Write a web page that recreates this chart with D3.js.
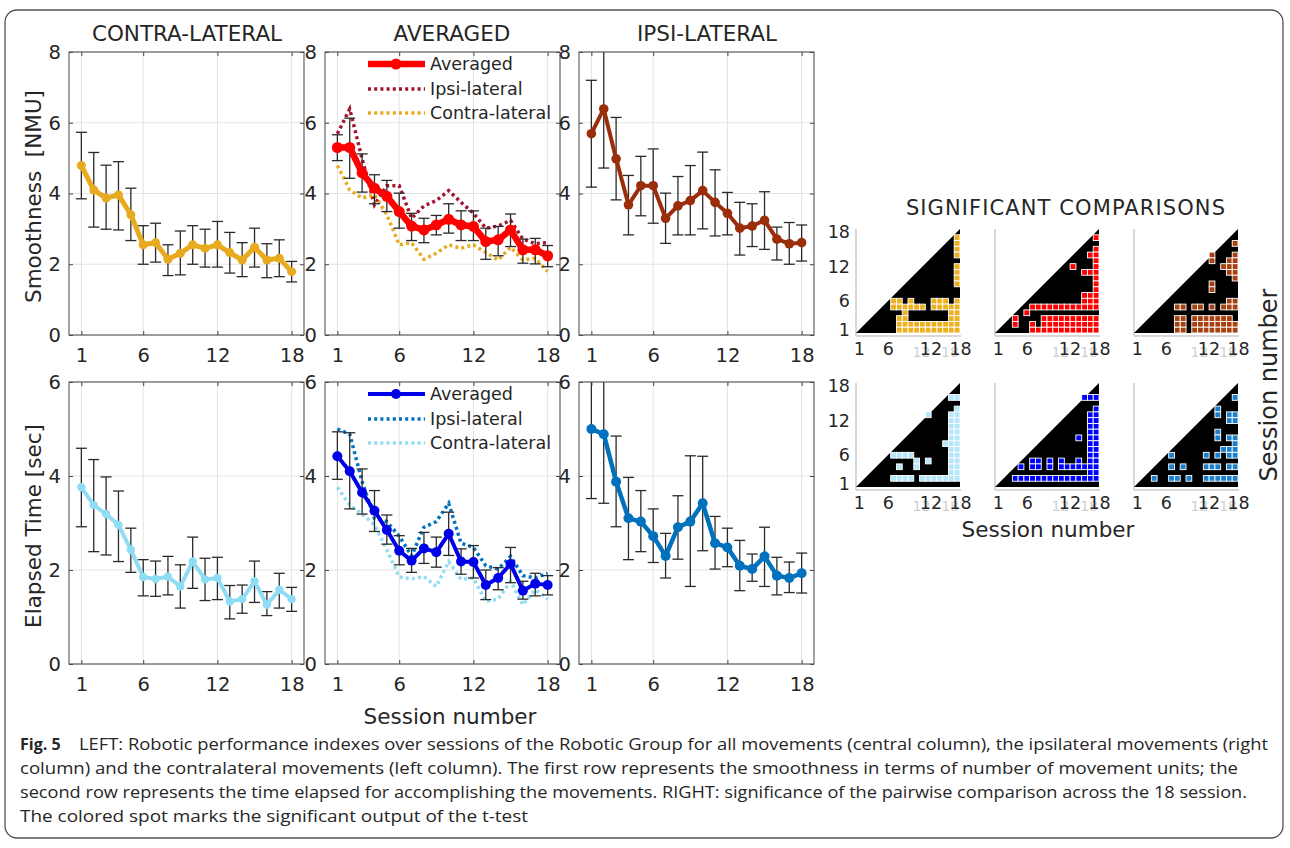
<!DOCTYPE html>
<html>
<head>
<meta charset="utf-8">
<script src="https://cdn.jsdelivr.net/npm/d3@7"></script>
<style>
body { margin: 0; background: #fff; }
svg text { font-family: "DejaVu Sans", sans-serif; fill: #262626; white-space: pre; }
</style>
</head>
<body>
<svg id="fig" width="1290" height="848"></svg>
<script>
// ---- data ----
const sessions = d3.range(1, 19);
const xTicks = [1, 6, 12, 18];

// Smoothness [NMU]
const smContra   = [4.79, 4.10, 3.87, 3.96, 3.40, 2.55, 2.61, 2.14, 2.31, 2.55, 2.45, 2.55, 2.33, 2.12, 2.48, 2.12, 2.17, 1.79];
const smContraHi = [5.73, 5.16, 4.80, 4.90, 4.15, 3.09, 3.16, 2.55, 2.94, 3.09, 2.99, 3.21, 2.90, 2.61, 3.02, 2.58, 2.69, 2.08];
const smContraLo = [3.85, 3.05, 2.99, 2.97, 2.67, 2.00, 2.06, 1.68, 1.70, 2.00, 1.92, 1.92, 1.75, 1.65, 1.92, 1.62, 1.65, 1.50];
const smAvg      = [5.30, 5.30, 4.58, 4.15, 3.92, 3.49, 3.08, 2.97, 3.11, 3.27, 3.11, 3.07, 2.64, 2.69, 2.97, 2.41, 2.41, 2.24];
const smAvgHi    = [5.66, 6.13, 5.12, 4.53, 4.37, 4.01, 3.44, 3.30, 3.38, 3.71, 3.51, 3.51, 3.02, 3.07, 3.42, 2.71, 2.73, 2.53];
const smAvgLo    = [4.93, 4.43, 4.04, 3.71, 3.49, 3.02, 2.67, 2.61, 2.83, 2.88, 2.67, 2.67, 2.14, 2.24, 2.50, 2.03, 2.01, 1.93];
const smIpsi     = [5.69, 6.39, 4.98, 3.68, 4.22, 4.22, 3.30, 3.65, 3.80, 4.08, 3.75, 3.44, 3.02, 3.08, 3.24, 2.71, 2.58, 2.61];
const smIpsiHi   = [7.20, 8.40, 6.15, 4.51, 5.05, 5.26, 4.01, 4.48, 4.79, 5.17, 4.67, 4.03, 3.75, 3.71, 4.05, 3.05, 3.18, 3.11];
const smIpsiLo   = [4.18, 4.72, 3.82, 2.83, 3.37, 3.16, 2.59, 2.83, 2.83, 3.00, 2.80, 2.83, 2.26, 2.50, 2.42, 2.12, 2.00, 2.09];

// Elapsed Time [sec]
const etContra   = [3.76, 3.38, 3.19, 2.96, 2.43, 1.85, 1.81, 1.86, 1.65, 2.18, 1.80, 1.83, 1.33, 1.38, 1.76, 1.26, 1.58, 1.38];
const etContraHi = [4.59, 4.35, 3.98, 3.68, 2.89, 2.22, 2.19, 2.29, 2.11, 2.70, 2.25, 2.27, 1.67, 1.68, 2.19, 1.54, 1.93, 1.63];
const etContraLo = [2.92, 2.39, 2.32, 2.18, 1.95, 1.45, 1.44, 1.47, 1.19, 1.61, 1.35, 1.37, 0.96, 1.08, 1.31, 1.03, 1.19, 1.12];
const etAvg      = [4.42, 4.10, 3.65, 3.26, 2.85, 2.41, 2.20, 2.46, 2.38, 2.77, 2.18, 2.17, 1.68, 1.83, 2.13, 1.56, 1.71, 1.68];
const etAvgHi    = [4.94, 4.92, 4.15, 3.69, 3.17, 2.73, 2.46, 2.80, 2.70, 3.23, 2.45, 2.52, 2.00, 2.05, 2.48, 1.76, 1.93, 1.88];
const etAvgLo    = [3.93, 3.30, 3.19, 2.82, 2.55, 2.11, 1.95, 2.14, 2.06, 2.31, 1.91, 1.83, 1.37, 1.58, 1.73, 1.38, 1.45, 1.47];
const etIpsi     = [5.00, 4.89, 3.88, 3.10, 3.03, 2.72, 2.30, 2.91, 3.03, 3.42, 2.57, 2.48, 2.09, 2.02, 2.29, 1.88, 1.83, 1.93];
const etIpsiHi   = [6.50, 6.40, 4.85, 3.97, 3.69, 3.30, 2.78, 3.58, 4.43, 4.42, 3.14, 2.89, 2.63, 2.34, 2.91, 2.27, 2.17, 2.36];
const etIpsiLo   = [3.52, 3.42, 2.92, 2.22, 2.39, 2.16, 1.83, 2.23, 1.65, 2.41, 2.02, 2.07, 1.56, 1.76, 1.65, 1.47, 1.52, 1.51];

// significant comparisons: rows from session 18 (top) down to session 1, columns sessions 1..18
const sigSmContra = [
  "..................",
  ".................#",
  ".................#",
  ".................#",
  ".................#",
  "..................",
  ".................#",
  ".................#",
  ".................#",
  ".................#",
  "..................",
  "..................",
  "......##.#...###.#",
  "......######.#####",
  "........#.......##",
  ".......##.......##",
  ".......###########",
  ".......###########"];
const sigSmAvg = [
  "..................",
  ".................#",
  "..................",
  ".................#",
  "................##",
  ".................#",
  ".............#...#",
  "...............###",
  ".................#",
  ".................#",
  ".................#",
  "...............###",
  "...............###",
  "......############",
  ".....#............",
  "...#....##########",
  "...#..#.##########",
  "......############"];
const sigSmIpsi = [
  "..................",
  "..................",
  ".................#",
  "..................",
  ".............#...#",
  ".............#..##",
  "...............###",
  "................##",
  ".................#",
  ".............#....",
  ".............#....",
  "..................",
  "................##",
  ".......##.##.#.###",
  "..................",
  ".......##.#######.",
  ".......##.########",
  ".......##.########"];
const sigEtContra = [
  "..................",
  "..................",
  "................##",
  "..................",
  ".................#",
  "............#...##",
  "................##",
  "................##",
  "................##",
  "................##",
  "...............###",
  "................##",
  "......####......##",
  "..........#.#...##",
  ".......#..#.....##",
  "................##",
  "......####.#######",
  ".................."];
const sigEtAvg = [
  "..................",
  "..................",
  "...............###",
  "..................",
  ".................#",
  "................##",
  "................##",
  "................##",
  "................##",
  "..............#.##",
  "................##",
  "................##",
  "................##",
  "......##.#.#..#.##",
  "....#.##.#.#######",
  "................##",
  "...###############",
  ".................."];
const sigEtIpsi = [
  "..................",
  "..................",
  ".................#",
  "..................",
  "..............#...",
  "..............#.##",
  "................##",
  "..................",
  "..............#...",
  "..............#.##",
  ".................#",
  "...............###",
  "......#.....#.#.##",
  "..................",
  "......#.#...###.##",
  "..................",
  "...#..##.#..######",
  ".................."];

// ---- layout ----
const svg = d3.select("#fig");
const lefts = [69, 325, 579];
const plotW = 235;
const rowsDef = [
  {top: 52, h: 283, ymax: 8, yticks: [0, 2, 4, 6, 8], label: "Smoothness  [NMU]"},
  {top: 382, h: 282, ymax: 6, yticks: [0, 2, 4, 6], label: "Elapsed Time [sec]"}
];

// outer frame
svg.append("rect").attr("x", 5).attr("y", 10).attr("width", 1278).attr("height", 828)
  .attr("rx", 12).attr("fill", "none").attr("stroke", "#555").attr("stroke-width", 1.3);

function panel(col, row, cfg) {
  const left = lefts[col], top = rowsDef[row].top, h = rowsDef[row].h;
  const x = d3.scaleLinear().domain([0, 19]).range([left, left + plotW]);
  const y = d3.scaleLinear().domain([0, rowsDef[row].ymax]).range([top + h, top]);
  const g = svg.append("g");
  const clipId = "clip" + col + row;
  g.append("clipPath").attr("id", clipId).append("rect")
    .attr("x", left).attr("y", top).attr("width", plotW).attr("height", h);

  // grid
  g.append("g").selectAll("line").data(xTicks).join("line")
    .attr("x1", d => x(d)).attr("x2", d => x(d)).attr("y1", top).attr("y2", top + h)
    .attr("stroke", "#e3e3e3").attr("stroke-width", 1);
  g.append("g").selectAll("line").data(rowsDef[row].yticks).join("line")
    .attr("x1", left).attr("x2", left + plotW).attr("y1", d => y(d)).attr("y2", d => y(d))
    .attr("stroke", "#e3e3e3").attr("stroke-width", 1);

  const inner = g.append("g").attr("clip-path", `url(#${clipId})`);
  const line = d3.line().x((d, i) => x(sessions[i])).y(d => y(d));

  // dotted background series (averaged panel)
  (cfg.dotted || []).forEach(s => {
    inner.append("path").attr("d", line(s.values)).attr("fill", "none")
      .attr("stroke", s.color).attr("stroke-width", 3.5).attr("stroke-dasharray", "3,3.2");
  });

  // error bars
  const eb = inner.append("g").attr("stroke", "#2a2a2a").attr("stroke-width", 1.3);
  sessions.forEach((s, i) => {
    eb.append("line").attr("x1", x(s)).attr("x2", x(s)).attr("y1", y(cfg.hi[i])).attr("y2", y(cfg.lo[i]));
    eb.append("line").attr("x1", x(s) - 5.5).attr("x2", x(s) + 5.5).attr("y1", y(cfg.hi[i])).attr("y2", y(cfg.hi[i]));
    eb.append("line").attr("x1", x(s) - 5.5).attr("x2", x(s) + 5.5).attr("y1", y(cfg.lo[i])).attr("y2", y(cfg.lo[i]));
  });

  inner.append("path").attr("d", line(cfg.values)).attr("fill", "none")
    .attr("stroke", cfg.color).attr("stroke-width", cfg.lw).attr("stroke-linejoin", "round");
  inner.append("g").selectAll("circle").data(cfg.values).join("circle")
    .attr("cx", (d, i) => x(sessions[i])).attr("cy", d => y(d)).attr("r", cfg.r).attr("fill", cfg.color);

  // axes (MATLAB style, ticks inside, box on)
  const ax = g.append("g").attr("transform", `translate(0,${top + h})`)
    .call(d3.axisBottom(x).tickValues(xTicks).tickSize(-4).tickSizeOuter(0).tickPadding(13));
  const axT = g.append("g").attr("transform", `translate(0,${top})`)
    .call(d3.axisTop(x).tickValues(xTicks).tickSize(-4).tickSizeOuter(0).tickFormat(""));
  const ay = g.append("g").attr("transform", `translate(${left},0)`)
    .call(d3.axisLeft(y).tickValues(rowsDef[row].yticks).tickSize(-4).tickSizeOuter(0)
      .tickPadding(8).tickFormat(d3.format("d")));
  const ayR = g.append("g").attr("transform", `translate(${left + plotW},0)`)
    .call(d3.axisRight(y).tickValues(rowsDef[row].yticks).tickSize(-4).tickSizeOuter(0).tickFormat(""));
  [ax, axT, ay, ayR].forEach(a => {
    a.select(".domain").remove();
    a.selectAll(".tick line").attr("stroke", "#444");
    a.selectAll("text").attr("font-size", 19.5).attr("font-family", "DejaVu Sans").attr("fill", "#262626");
  });
  g.append("rect").attr("x", left).attr("y", top).attr("width", plotW).attr("height", h)
    .attr("fill", "none").attr("stroke", "#555").attr("stroke-width", 1.1);

  // legend
  if (cfg.legend) {
    const lg = g.append("g");
    cfg.legend.forEach((e, i) => {
      const ly = top + [12, 37, 61][i];
      const l = lg.append("line").attr("x1", left + 43).attr("x2", left + 100).attr("y1", ly).attr("y2", ly)
        .attr("stroke", e.color).attr("stroke-width", e.dotted ? 3.5 : cfg.lw);
      if (e.dotted) l.attr("stroke-dasharray", "3,3.2");
      else lg.append("circle").attr("cx", left + 71).attr("cy", ly).attr("r", cfg.r).attr("fill", e.color);
      lg.append("text").attr("x", left + 105).attr("y", ly).attr("dy", "0.36em")
        .attr("font-size", 17.5).text(e.name);
    });
  }
  return {x, y};
}

const gold = "#E8AA1E", red = "#FF0000", maroon = "#A2142F", brown = "#9B2D0A";
const ltBlue = "#8FDDF4", blue = "#0000E8", mBlue = "#0072BD";

panel(0, 0, {values: smContra, hi: smContraHi, lo: smContraLo, color: gold, lw: 5, r: 4.5});
panel(1, 0, {values: smAvg, hi: smAvgHi, lo: smAvgLo, color: red, lw: 6.5, r: 5.5,
  dotted: [{values: smIpsi, color: maroon}, {values: smContra, color: gold}],
  legend: [{name: "Averaged", color: red}, {name: "Ipsi-lateral", color: maroon, dotted: true},
           {name: "Contra-lateral", color: gold, dotted: true}]});
panel(2, 0, {values: smIpsi, hi: smIpsiHi, lo: smIpsiLo, color: brown, lw: 4, r: 4.8});
panel(0, 1, {values: etContra, hi: etContraHi, lo: etContraLo, color: ltBlue, lw: 4, r: 4.2});
panel(1, 1, {values: etAvg, hi: etAvgHi, lo: etAvgLo, color: blue, lw: 4, r: 5,
  dotted: [{values: etIpsi, color: mBlue}, {values: etContra, color: ltBlue}],
  legend: [{name: "Averaged", color: blue}, {name: "Ipsi-lateral", color: mBlue, dotted: true},
           {name: "Contra-lateral", color: ltBlue, dotted: true}]});
panel(2, 1, {values: etIpsi, hi: etIpsiHi, lo: etIpsiLo, color: mBlue, lw: 4.5, r: 5});

// titles and labels
const titles = [["CONTRA-LATERAL", 187], ["AVERAGED", 452], ["IPSI-LATERAL", 707]];
svg.selectAll(".ttl").data(titles).join("text").attr("class", "ttl")
  .attr("x", d => d[1]).attr("y", 41).attr("text-anchor", "middle").attr("font-size", 21.5).text(d => d[0]);
rowsDef.forEach((r, i) => {
  svg.append("text").attr("transform", `translate(41,${r.top + r.h / 2 + 3}) rotate(-90)`)
    .attr("text-anchor", "middle").attr("font-size", 21.5).text(r.label);
});
svg.append("text").attr("x", 450).attr("y", 724).attr("text-anchor", "middle").attr("font-size", 21.5).text("Session number");

// ---- significance matrices ----
const mLefts = [856, 995, 1134], mTops = [229, 383], mSize = 104;
const mColors = [["#EDB120", "#FF0000", "#A8400F"], ["#B5E6FA", "#0000FF", "#1A7FCC"]];
const mData = [[sigSmContra, sigSmAvg, sigSmIpsi], [sigEtContra, sigEtAvg, sigEtIpsi]];

function matrix(ci, ri) {
  const left = mLefts[ci], top = mTops[ri];
  const sx = d3.scaleLinear().domain([0.5, 18.5]).range([left, left + mSize]);
  const sy = d3.scaleLinear().domain([0.5, 18.5]).range([top + mSize, top]);
  const g = svg.append("g");
  g.append("line").attr("x1", left).attr("x2", left).attr("y1", top).attr("y2", top + mSize + 3)
    .attr("stroke", "#d8d8d8").attr("stroke-width", 2);
  g.append("line").attr("x1", left).attr("x2", left + mSize + 1).attr("y1", top + mSize + 3).attr("y2", top + mSize + 3)
    .attr("stroke", "#d8d8d8").attr("stroke-width", 2);
  g.append("path").attr("d", d3.line()([[sx(0.5), sy(0.5)], [sx(18.5), sy(0.5)], [sx(18.5), sy(18.5)]]) + "Z")
    .attr("fill", "#000");
  const cells = [];
  mData[ri][ci].forEach((str, k) => {
    const r = 18 - k;
    str.split("").forEach((ch, c) => { if (ch === "#") cells.push([c + 1, r]); });
  });
  const cw = sx(1.5) - sx(0.5);
  g.append("g").selectAll("rect").data(cells).join("rect")
    .attr("x", d => sx(d[0] - 0.5)).attr("y", d => sy(d[1] + 0.5)).attr("width", cw).attr("height", cw)
    .attr("fill", mColors[ri][ci]).attr("stroke", "#fff").attr("stroke-width", 0.9);

  // faint duplicate tick labels seen in the original
  g.append("g").selectAll("text").data([12, 18]).join("text")
    .attr("x", d => sx(d) - (d === 18 ? 7 : 1)).attr("y", top + mSize + 24).attr("text-anchor", "middle")
    .attr("font-family", "Liberation Sans").attr("font-size", 14).style("fill", "#cfcfcf").text(d => d);
  const ax = g.append("g").attr("transform", `translate(0,${top + mSize + 3})`)
    .call(d3.axisBottom(sx).tickValues(xTicks).tickSize(0).tickPadding(7));
  ax.select(".domain").remove();
  ax.selectAll("text").attr("font-family", "Liberation Sans").attr("font-size", 17.5).attr("fill", "#1a1a1a")
    .attr("dx", d => d === 12 ? 8 : (d === 18 ? 3 : 0));
  if (ci === 0) {
    const ay = g.append("g").attr("transform", `translate(${left - 4},0)`)
      .call(d3.axisLeft(sy).tickValues([1, 6, 12, 18]).tickSize(0).tickPadding(2));
    ay.select(".domain").remove();
    ay.selectAll("text").attr("font-family", "Liberation Sans").attr("font-size", 17.5).attr("fill", "#1a1a1a");
  }
}
for (let ri = 0; ri < 2; ri++) for (let ci = 0; ci < 3; ci++) matrix(ci, ri);

svg.append("text").attr("x", 1066).attr("y", 215).attr("text-anchor", "middle").attr("font-size", 21)
  .attr("letter-spacing", 1.1).text("SIGNIFICANT COMPARISONS");
svg.append("text").attr("x", 1048).attr("y", 537).attr("text-anchor", "middle").attr("font-size", 21.5)
  .text("Session number");
svg.append("text").attr("transform", "translate(1277,385) rotate(-90)").attr("text-anchor", "middle")
  .attr("font-size", 24).text("Session number");

// ---- caption ----
const captionLines = [
  "LEFT: Robotic performance indexes over sessions of the Robotic Group for all movements (central column), the ipsilateral movements (right",
  "column) and the contralateral movements (left column). The first row represents the smoothness in terms of number of movement units; the",
  "second row represents the time elapsed for accomplishing the movements. RIGHT: significance of the pairwise comparison across the 18 session.",
  "The colored spot marks the significant output of the t-test"];
const capW = [1189, 1218, 1227, 508];
const cap = svg.append("g");
cap.append("text").attr("x", 20).attr("y", 750).attr("font-size", 16).attr("font-weight", "bold")
  .style("font-family", "Open Sans").text("Fig. 5");
captionLines.forEach((t, i) => {
  cap.append("text").attr("x", i === 0 ? 79 : 20).attr("y", 750 + i * 24).attr("font-size", 16)
    .style("font-family", "Open Sans").attr("textLength", capW[i]).attr("lengthAdjust", "spacingAndGlyphs").text(t);
});
</script>
</body>
</html>
